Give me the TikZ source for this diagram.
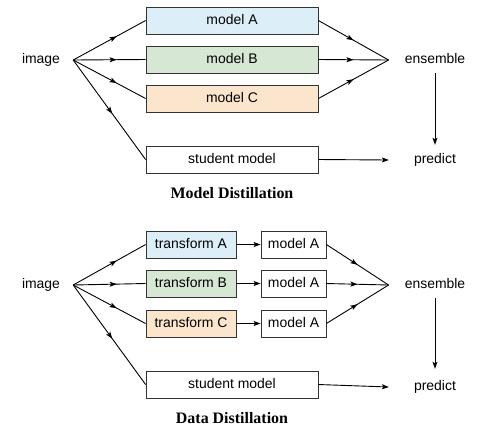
\documentclass[tikz,border=0pt]{standalone}
\usepackage{fontspec}
\setmainfont{Liberation Sans}
\newfontfamily\titlefont{Liberation Serif}
\usetikzlibrary{arrows.meta,decorations.markings}
\definecolor{cblue}{HTML}{DCEEF7}
\definecolor{cgreen}{HTML}{D6E8D4}
\definecolor{corange}{HTML}{FCE5CD}
\definecolor{cline}{HTML}{333333}
\begin{document}
\begin{tikzpicture}[x=1bp,y=-1bp,
  font=\fontsize{14}{16}\selectfont,
  tip/.tip={Stealth[length=7bp,width=5bp,inset=1.5bp]},
  box/.style={draw=cline, line width=0.8bp, minimum height=27bp, inner sep=0pt, text height=10bp, text depth=3bp},
  lbl/.style={inner ysep=0pt, text height=10bp, text depth=3bp},
  conn/.style={line width=0.9bp, draw=black},
  midarrow/.style={conn, postaction={decorate}, decoration={markings, mark=at position #1 with {\arrow{tip}}}},
  midarrow/.default=0.5,
  endarrow/.style={conn, -tip},
  title/.style={font=\titlefont\bfseries\fontsize{16}{18}\selectfont}]
\useasboundingbox (0,0) rectangle (500,430);

% ---------- Model Distillation ----------
\node[lbl, inner xsep=13bp] (img1) at (41,60) {image};
\node[box, fill=cblue, minimum width=172bp] (mA) at (232,20.5) {model A};
\node[box, fill=cgreen, minimum width=172bp] (mB) at (232,59.5) {model B};
\node[box, fill=corange, minimum width=172bp] (mC) at (232,98.5) {model C};
\node[box, fill=white, minimum width=172bp] (st1) at (232,159.5) {student model};
\node[lbl, inner xsep=16bp, minimum height=26bp] (ens1) at (435,60) {ensemble};
\node[lbl, inner xsep=25bp, minimum height=30bp] (pr1) at (435,160) {predict};
\node[title] (t1) at (232,193) {Model Distillation};

\draw[midarrow=0.6] (img1.east) -- (mA.west);
\draw[midarrow=0.6] (img1.east) -- (mB.west);
\draw[midarrow=0.6] (img1.east) -- (mC.west);
\draw[midarrow=0.54] (img1.east) -- (st1.west);
\draw[midarrow] (mA.east) -- (ens1.west);
\draw[midarrow] (mB.east) -- (ens1.west);
\draw[midarrow] (mC.east) -- (ens1.west);
\draw[endarrow] (ens1.south) -- (pr1.north);
\draw[endarrow] (st1.east) -- (pr1.west);

% ---------- Data Distillation ----------
\node[lbl, inner xsep=13bp] (img2) at (41,285) {image};
\node[box, fill=cblue, minimum width=90bp] (tA) at (191,244.5) {transform A};
\node[box, fill=cgreen, minimum width=90bp] (tB) at (191,283.5) {transform B};
\node[box, fill=corange, minimum width=90bp] (tC) at (191,323.5) {transform C};
\node[box, fill=white, minimum width=65bp] (dA) at (293.5,244.5) {model A};
\node[box, fill=white, minimum width=65bp] (dB) at (293.5,283.5) {model A};
\node[box, fill=white, minimum width=65bp] (dC) at (293.5,323.5) {model A};
\node[box, fill=white, minimum width=172bp] (st2) at (232,384.5) {student model};
\node[lbl, inner xsep=16bp, minimum height=26bp] (ens2) at (435,285) {ensemble};
\node[lbl, inner xsep=25bp, minimum height=36bp] (pr2) at (435,387) {predict};
\node[title] (t2) at (232,418) {Data Distillation};

\draw[midarrow=0.6] (img2.east) -- (tA.west);
\draw[midarrow=0.6] (img2.east) -- (tB.west);
\draw[midarrow=0.6] (img2.east) -- (tC.west);
\draw[midarrow=0.54] (img2.east) -- (st2.west);
\draw[endarrow] (tA.east) -- (dA.west);
\draw[endarrow] (tB.east) -- (dB.west);
\draw[endarrow] (tC.east) -- (dC.west);
\draw[midarrow] (dA.east) -- (ens2.west);
\draw[midarrow] (dB.east) -- (ens2.west);
\draw[midarrow] (dC.east) -- (ens2.west);
\draw[endarrow] (ens2.south) -- (pr2.north);
\draw[endarrow] (st2.east) -- (pr2.west);
\end{tikzpicture}
\end{document}
